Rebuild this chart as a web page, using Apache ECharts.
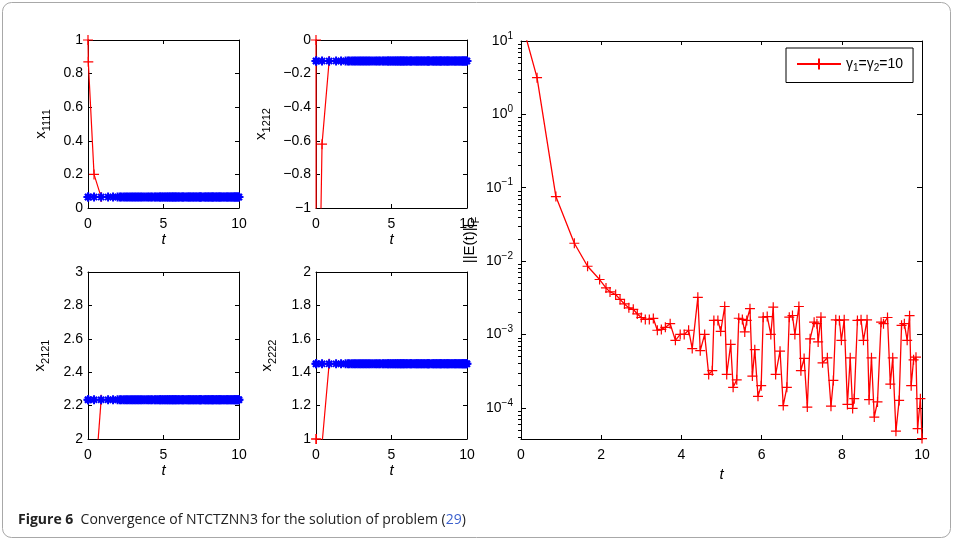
<!DOCTYPE html>
<html>
<head>
<meta charset="utf-8">
<script src="https://cdn.jsdelivr.net/npm/echarts@6/dist/echarts.min.js"></script>
<style>
html,body{margin:0;padding:0;background:#fff;}
#main{width:956px;height:546px;}
</style>
</head>
<body>
<div id="main"></div>
<script>
// time steps of the solver
var tSteps = [0, 0.02, 0.4, 0.87, 1.33, 1.66, 1.96, 2.12, 2.22, 2.36, 2.47, 2.58, 2.69, 2.8, 2.9,
    3.0, 3.1, 3.2, 3.3, 3.4, 3.5, 3.6, 3.72, 3.85, 3.97, 4.07, 4.18, 4.27, 4.41, 4.47, 4.58, 4.68,
    4.77, 4.81, 4.91, 4.98, 5.08, 5.13, 5.23, 5.29, 5.38, 5.43, 5.52, 5.58, 5.63, 5.71, 5.77, 5.83,
    5.91, 5.99, 6.04, 6.14, 6.23, 6.29, 6.35, 6.46, 6.54, 6.63, 6.69, 6.77, 6.83, 6.93, 6.98, 7.06,
    7.14, 7.21, 7.31, 7.38, 7.41, 7.48, 7.52, 7.64, 7.73, 7.79, 7.85, 7.94, 7.99, 8.06, 8.14, 8.21,
    8.27, 8.31, 8.39, 8.48, 8.54, 8.63, 8.68, 8.74, 8.81, 8.89, 8.98, 9.04, 9.14, 9.21, 9.27, 9.35,
    9.43, 9.49, 9.56, 9.63, 9.69, 9.73, 9.79, 9.85, 9.89, 9.96, 10.0];
// ||E(t)||F
var errNorm = [20, 18, 3.16, 0.0757, 0.0175, 0.0085, 0.0056, 0.0043, 0.0038, 0.0035, 0.0030, 0.0026, 0.0023, 0.0022, 0.0019,
    0.0017, 0.0016, 0.0016, 0.00165, 0.00114, 0.00117, 0.00125, 0.0014, 0.00083, 0.001, 0.001, 0.00114, 0.00064, 0.0032, 0.0006, 0.001, 0.000285,
    0.00032, 0.00155, 0.00155, 0.0011, 0.0024, 0.000285, 0.00073, 0.00019, 0.00024, 0.00166, 0.0016, 0.00108, 0.00155, 0.00224, 0.00027, 0.00062,
    0.000143, 0.0002, 0.00172, 0.00175, 0.001, 0.00235, 0.000285, 0.00059, 0.000107, 0.00019, 0.00172, 0.00181, 0.001, 0.0024, 0.00032, 0.00047,
    0.000102, 0.00087, 0.00147, 0.0014, 0.00079, 0.00172, 0.00041, 0.00048, 0.000105, 0.000236, 0.00158, 0.00155, 0.00083, 0.00158, 0.000111, 0.00048,
    0.000098, 0.000133, 0.00155, 0.00158, 0.00083, 0.00158, 0.000129, 0.00048, 0.0000746, 0.00012, 0.00147, 0.0014, 0.0017, 0.00021, 0.00048, 0.000048,
    0.000126, 0.00133, 0.0014, 0.00083, 0.0018, 0.0002, 0.00045, 0.00049, 0.000052, 0.000133, 0.000038];

// transient of the network states (red), first steps only
var redT = [0, 0.02, 0.4, 0.87];
var x1111Red = [1, 0.87, 0.2, 0.065];
var x1212Red = [0, -2.7, -0.62, -0.125];
var x2121Red = [null, null, 1.67, 2.235];
var x2222Red = [1, 1.0, 0.97, 1.45];
// theoretical solution (blue)
var x1111Star = 0.065, x1212Star = -0.125, x2121Star = 2.235, x2222Star = 1.45;

var subNames = ['1111', '1212', '2121', '2222'];
var subRanges = [[0, 1], [-1, 0], [2, 3], [1, 2]];

var plusPath = 'path://M0,5L10,5M5,0L5,10';
var starPath = 'path://M5,0L5,10M0,5L10,5M1.6,1.6L8.4,8.4M8.4,1.6L1.6,8.4';

var font = 'Liberation Sans, Arial, Helvetica, sans-serif';

function pairs(ts, vs) {
    var out = [];
    for (var i = 0; i < ts.length; i++) out.push([ts[i], vs[i]]);
    return out;
}
function constLine(ts, v) {
    return ts.map(function (t) { return [t, v]; });
}
function minusFmt(v) {
    return String(Math.round(v * 10) / 10).replace('-', '\u2212');
}

var grids = [
    {left: 88, top: 40, width: 151, height: 168},
    {left: 316, top: 40, width: 151, height: 168},
    {left: 88, top: 272, width: 151, height: 167},
    {left: 316, top: 272, width: 151, height: 167},
    {left: 521, top: 41, width: 401, height: 398}
];
var yNameGaps = [36, 44, 37, 38];

var axisLine = {show: true, onZero: false, lineStyle: {color: '#000', width: 1}};
var tick = {show: true, inside: true, length: 4, lineStyle: {color: '#000', width: 1}};
var lbl = {color: '#000', fontFamily: font, fontSize: 14};

var xAxes = [], yAxes = [];
for (var g = 0; g < 5; g++) {
    var big = g == 4;
    xAxes.push({
        type: 'value', gridIndex: g, min: 0, max: 10, interval: big ? 2 : 5,
        axisLine: axisLine, axisTick: tick, splitLine: {show: false},
        axisLabel: Object.assign({margin: 9}, lbl),
        name: 't', nameLocation: 'middle', nameGap: big ? 25 : 23,
        nameTextStyle: {color: '#000', fontFamily: font, fontSize: 15, fontStyle: 'italic'}
    });
    xAxes.push({
        type: 'value', gridIndex: g, position: 'top', min: 0, max: 10, interval: big ? 2 : 5,
        axisLine: axisLine, axisTick: tick, splitLine: {show: false}, axisLabel: {show: false}
    });
    if (!big) {
        yAxes.push({
            type: 'value', gridIndex: g, min: subRanges[g][0], max: subRanges[g][1], interval: 0.2,
            axisLine: axisLine, axisTick: tick, splitLine: {show: false},
            axisLabel: Object.assign({margin: 5, formatter: minusFmt}, lbl),
            name: 'x{s|' + subNames[g] + '}', nameLocation: 'middle', nameRotate: 90, nameGap: yNameGaps[g],
            nameTextStyle: {color: '#000', fontFamily: font, fontSize: 15,
                rich: {s: {fontFamily: font, fontSize: 11, color: '#000', padding: [11, 0, 0, 0]}}}
        });
        yAxes.push({
            type: 'value', gridIndex: g, position: 'right', min: subRanges[g][0], max: subRanges[g][1], interval: 0.2,
            axisLine: axisLine, axisTick: tick, splitLine: {show: false}, axisLabel: {show: false}
        });
    }
}

// log axis of the error plot
var logMin = 3.75e-5, logMax = 10;
var minorTicks = [];
for (var k = -5; k <= 0; k++) {
    for (var m = 2; m <= 9; m++) {
        var v = m * Math.pow(10, k);
        if (v > logMin && v < logMax) minorTicks.push(+v.toPrecision(3));
    }
}
function logFmt(v) {
    var e = Math.log10(v), r = Math.round(e);
    if (Math.abs(e - r) > 1e-6) return '';
    return '{b|10}{p|' + (r < 0 ? '\u2212' + (-r) : r) + '}';
}
yAxes.push({
    type: 'log', logBase: 10, gridIndex: 4, min: logMin, max: logMax,
    axisLine: axisLine, axisTick: {show: true, inside: true, length: 5, lineStyle: {color: '#000'}},
    splitLine: {show: false}, minorTick: {show: false},
    axisLabel: {margin: 8, formatter: logFmt, color: '#000', fontFamily: font,
        rich: {b: {fontFamily: font, fontSize: 14, color: '#000'},
               p: {fontFamily: font, fontSize: 10, color: '#000', padding: [0, 0, 10, 0]}}},
    name: '||E(t)||{s|F}', nameLocation: 'middle', nameRotate: 90, nameGap: 40,
    nameTextStyle: {color: '#000', fontFamily: font, fontSize: 15,
        rich: {s: {fontFamily: font, fontSize: 11, color: '#000', padding: [11, 0, 0, 0]}}}
});
yAxes.push({
    type: 'log', logBase: 10, gridIndex: 4, position: 'right', min: logMin, max: logMax,
    axisLine: axisLine, axisTick: {show: true, inside: true, length: 5, lineStyle: {color: '#000'}},
    splitLine: {show: false}, axisLabel: {show: false}
});
// minor ticks 2..9 of each decade, left and right
yAxes.push({
    type: 'log', logBase: 10, gridIndex: 4, min: logMin, max: logMax,
    axisLine: {show: false}, splitLine: {show: false}, axisLabel: {show: false},
    axisTick: {show: true, inside: true, length: 3, customValues: minorTicks, lineStyle: {color: '#000'}}
});
yAxes.push({
    type: 'log', logBase: 10, gridIndex: 4, position: 'right', min: logMin, max: logMax,
    axisLine: {show: false}, splitLine: {show: false}, axisLabel: {show: false},
    axisTick: {show: true, inside: true, length: 3, customValues: minorTicks, lineStyle: {color: '#000'}}
});

var redStyle = {color: '#ff0000', borderColor: '#ff0000', borderWidth: 1.2};
var blueStyle = {color: '#0000ff', borderColor: '#0000ff', borderWidth: 2, opacity: 1};
var redData = [x1111Red, x1212Red, x2121Red, x2222Red];
var stars = [x1111Star, x1212Star, x2121Star, x2222Star];

var series = [];
for (var s = 0; s < 4; s++) {
    series.push({
        type: 'line', xAxisIndex: 2 * s, yAxisIndex: 2 * s, data: pairs(redT, redData[s]),
        symbol: plusPath, symbolSize: 10, itemStyle: redStyle, z: 2,
        lineStyle: {color: '#ff0000', width: 1.2}, clip: true, silent: true
    });
    series.push({
        type: 'scatter', xAxisIndex: 2 * s, yAxisIndex: 2 * s, data: constLine(tSteps, stars[s]),
        symbol: starPath, symbolSize: 9, itemStyle: blueStyle, clip: false, silent: true, z: 5
    });
}
series.push({
    name: 'gamma', type: 'line', xAxisIndex: 8, yAxisIndex: 8, data: pairs(tSteps, errNorm),
    symbol: plusPath, symbolSize: 10, itemStyle: redStyle,
    lineStyle: {color: '#ff0000', width: 1.3}, clip: true, silent: true
});

var chart = echarts.init(document.getElementById('main'));
chart.setOption({
    animation: false,
    backgroundColor: '#fff',
    grid: grids,
    xAxis: xAxes,
    yAxis: yAxes,
    legend: {
        data: ['gamma'], left: 786, top: 48, orient: 'vertical',
        padding: [9, 10, 9, 10], borderColor: '#000', borderWidth: 1, borderRadius: 0,
        itemWidth: 44, itemHeight: 14, selectedMode: false,
        formatter: function () { return '{g|\u03b3}{s|1}{g|=\u03b3}{s|2}{g|=10}'; },
        textStyle: {color: '#000', fontFamily: font, fontSize: 14,
            rich: {g: {fontFamily: font, fontSize: 14, color: '#000'},
                   s: {fontFamily: font, fontSize: 10, color: '#000', padding: [9, 0, 0, 0]}}}
    },
    graphic: [
        {type: 'rect', shape: {x: 2.5, y: 2.5, width: 948, height: 535, r: 9},
         style: {fill: 'none', stroke: '#a8a8a8', lineWidth: 1}, silent: true, z: -10},
        {type: 'text', left: 18, top: 513, silent: true,
         style: {text: '{b|Figure 6}  Convergence of NTCTZNN3 for the solution of problem ({l|29})',
             fontFamily: 'Open Sans, sans-serif', fontSize: 14, fill: '#222',
             rich: {b: {fontFamily: 'Open Sans, sans-serif', fontSize: 14, fontWeight: 'bold', fill: '#222'},
                    l: {fontFamily: 'Open Sans, sans-serif', fontSize: 14, fill: '#3a5fcd'}}}}
    ],
    series: series
});
</script>
</body>
</html>
